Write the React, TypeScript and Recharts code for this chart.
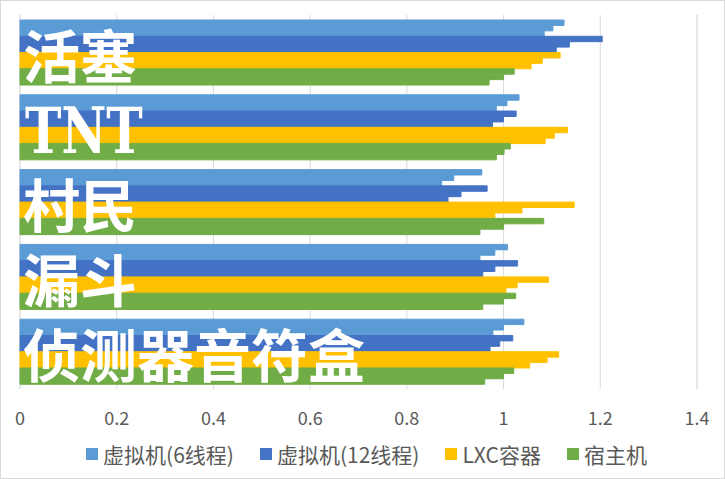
import { BarChart, Bar, XAxis, YAxis, CartesianGrid, Legend, LabelList } from "recharts"

const categories = ["活塞", "TNT", "村民", "漏斗", "侦测器音符盒"]

const seriesNames = ["虚拟机(6线程)", "虚拟机(12线程)", "LXC容器", "宿主机"]
const seriesColors = ["#5B9BD5", "#4472C4", "#FFC000", "#70AD47"]

// three runs per category, top to bottom
const vm6 = [
  [1.125, 1.102, 1.084],
  [1.032, 1.007, 0.985],
  [0.955, 0.897, 0.872],
  [1.008, 0.982, 0.951],
  [1.042, 1.0, 0.978],
]
const vm12 = [
  [1.204, 1.136, 1.109],
  [1.026, 1.0, 0.977],
  [0.966, 0.912, 0.885],
  [1.029, 0.982, 0.957],
  [1.019, 0.992, 0.972],
]
const lxc = [
  [1.117, 1.08, 1.057],
  [1.132, 1.105, 1.086],
  [1.146, 1.038, 0.982],
  [1.093, 1.028, 1.005],
  [1.114, 1.09, 1.054],
]
const host = [
  [1.022, 1.0, 0.97],
  [1.014, 1.001, 0.985],
  [1.083, 1.0, 0.951],
  [1.025, 1.0, 0.957],
  [1.021, 1.0, 0.961],
]

const majorTicks = [0, 0.2, 0.4, 0.6, 0.8, 1, 1.2, 1.4]
const minorTicks = Array.from({ length: 36 }, (_, i) => +(i * 0.04).toFixed(2))

const seriesValues = [vm6, vm12, lxc, host]

const data = categories.map((name, i) => {
  const row: Record<string, string | number> = { name }
  seriesValues.forEach((vals, s) => {
    vals[i].forEach((v, r) => {
      row[`s${s}r${r}`] = v
    })
  })
  return row
})

const barKeys = seriesValues.flatMap((vals, s) =>
  vals[0].map((_, r) => ({ key: `s${s}r${r}`, color: seriesColors[s] }))
)
const barsPerGroup = barKeys.length

// category name drawn over the bars, centred on the whole group
function GroupLabel({ x, y, height, value }: any) {
  const cy = y + height - (barsPerGroup / 2) * height
  const latin = /^[A-Za-z]+$/.test(String(value))
  if (latin) {
    return (
      <g transform={`translate(${x + 5},${cy + 3}) scale(1,1.28)`}>
        <text
          x={0}
          y={0}
          fill="#fff"
          fontSize={49}
          fontWeight="bold"
          fontFamily="'DejaVu Serif', serif"
          dominantBaseline="central"
        >
          {value}
        </text>
      </g>
    )
  }
  return (
    <text
      x={x + 3}
      y={cy}
      fill="#fff"
      fontSize={57}
      fontWeight={700}
      fontFamily="'Noto Sans CJK SC', sans-serif"
      dominantBaseline="central"
    >
      {value}
    </text>
  )
}

function LegendContent() {
  return (
    <div
      style={{
        display: "flex",
        justifyContent: "center",
        alignItems: "center",
        height: 24,
        paddingLeft: 8,
        fontFamily: "'Noto Sans CJK SC', sans-serif",
        fontSize: 21,
        color: "#595959",
      }}
    >
      {seriesNames.map((n, i) => (
        <div key={n} style={{ display: "flex", alignItems: "center", marginRight: i < seriesNames.length - 1 ? 26 : 0 }}>
          <span style={{ width: 12, height: 12, background: seriesColors[i], marginRight: 5, display: "inline-block" }} />
          <span>{n}</span>
        </div>
      ))}
    </div>
  )
}

export default function App() {
  return (
    <div
      style={{
        position: "absolute",
        left: 0,
        top: 0,
        width: 725,
        height: 479,
        boxSizing: "border-box",
        border: "1px solid #d9d9d9",
        background: "#fff",
        fontFamily: "'Noto Sans CJK SC', sans-serif",
      }}
    >
      <BarChart
        width={723}
        height={477}
        data={data}
        layout="vertical"
        margin={{ top: 14, right: 27, bottom: 12, left: 19 }}
        barGap={0}
      >
        <XAxis
          xAxisId="minor"
          type="number"
          domain={[0, 1.4]}
          ticks={minorTicks}
          hide
        />
        <CartesianGrid xAxisId="minor" horizontal={false} stroke="#ececec" />
        <CartesianGrid horizontal={false} stroke="#d9d9d9" />
        <XAxis
          type="number"
          domain={[0, 1.4]}
          ticks={majorTicks}
          axisLine={false}
          tickLine={false}
          tickSize={0}
          tickMargin={23}
          height={53}
          tick={{ fill: "#595959", fontSize: 18, fontFamily: "'Noto Sans CJK SC', sans-serif" }}
        />
        <YAxis
          type="category"
          dataKey="name"
          width={0}
          axisLine={false}
          tickLine={false}
          tick={false}
        />
        {barKeys.map((b, i) => (
          <Bar
            key={b.key}
            dataKey={b.key}
            fill={b.color}
            stroke={b.color}
            strokeWidth={1}
            barSize={5.42}
            legendType="none"
            isAnimationActive={false}
          >
            {i === barKeys.length - 1 && (
              <LabelList dataKey="name" content={<GroupLabel />} />
            )}
          </Bar>
        ))}
        <Legend
          verticalAlign="bottom"
          align="center"
          wrapperStyle={{ left: 0, width: 723 }}
          content={() => <LegendContent />}
        />
      </BarChart>
    </div>
  )
}
